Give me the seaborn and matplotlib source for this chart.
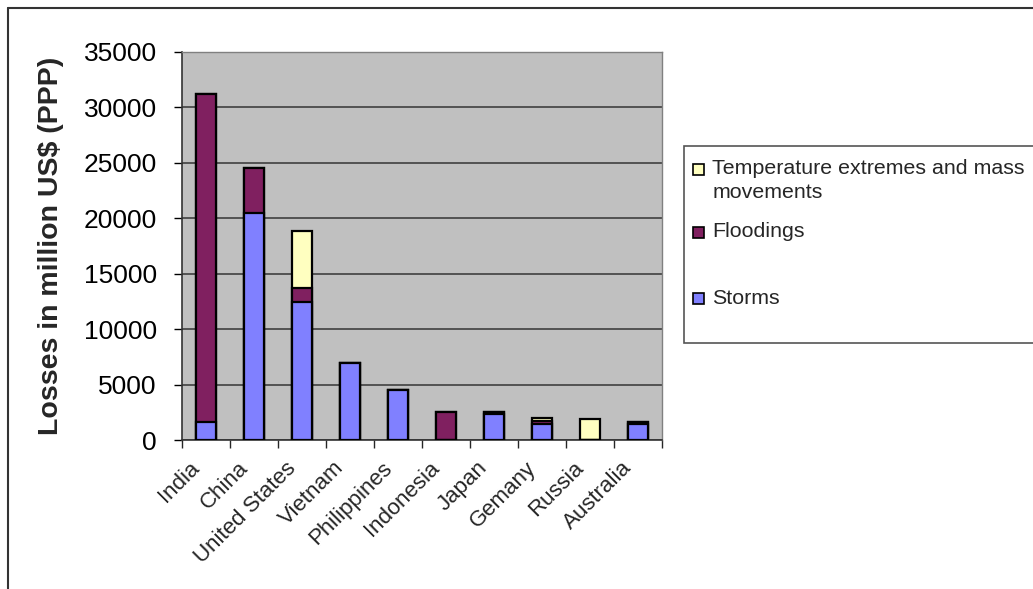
import matplotlib
matplotlib.use("Agg")
import matplotlib.pyplot as plt
import matplotlib.transforms as mtrans
import seaborn as sns
import pandas as pd
import numpy as np
from matplotlib.patches import Rectangle
from matplotlib.lines import Line2D

# losses per country, million US$ (PPP)
countries = ["India", "China", "United States", "Vietnam", "Philippines",
             "Indonesia", "Japan", "Gemany", "Russia", "Australia"]
storms = [1600, 20500, 12400, 6900, 4500, 0, 2300, 1450, 0, 1450]
floodings = [29600, 4000, 1300, 0, 0, 2500, 250, 250, 0, 200]
temp_mass = [0, 0, 5100, 0, 0, 0, 0, 300, 1850, 0]

legend_labels = ["Temperature extremes and mass", "movements", "Floodings", "Storms"]

c_storm = "#8080FF"
c_flood = "#802060"
c_temp = "#FFFFC0"

df = pd.DataFrame({"country": countries, "storms": storms,
                   "floodings": floodings, "temp": temp_mass})
df["lvl1"] = df["storms"]
df["lvl2"] = df["storms"] + df["floodings"]
df["lvl3"] = df["lvl2"] + df["temp"]

sns.set_style("white")
plt.rcParams["font.family"] = ["Liberation Sans", "DejaVu Sans"]

W, H = 1033, 589
fig = plt.figure(figsize=(W / 100, H / 100), dpi=100)

def fx(px):
    return px / W

def fy(py):
    return 1 - py / H

ax = fig.add_axes([fx(181.7), fy(440), fx(661.7) - fx(181.7), fy(51.7) - fy(440)])
ax.set_facecolor("#C0C0C0")

# stacked bars: draw the totals first, then the lower parts on top
for col, colr in [("lvl3", c_temp), ("lvl2", c_flood), ("lvl1", c_storm)]:
    sns.barplot(data=df, x="country", y=col, color=colr, saturation=1,
                edgecolor="black", linewidth=1.6, width=0.42, ax=ax, zorder=3)

ax.set_ylim(0, 35000)
ax.set_yticks(np.arange(0, 35001, 5000))
ax.set_xlim(-0.5, 9.5)
ax.yaxis.grid(True, color="#4a4a4a", lw=1.3, zorder=0)
ax.set_axisbelow(True)

for s in ["left", "bottom"]:
    ax.spines[s].set_color("#333333")
    ax.spines[s].set_linewidth(1.2)
for s in ["top", "right"]:
    ax.spines[s].set_color("#808080")
    ax.spines[s].set_linewidth(1.0)

ax.tick_params(axis="y", direction="out", length=6, width=1, labelsize=19,
               pad=12, left=True, colors="black")
ax.set_xticks(np.arange(-0.5, 10, 1), minor=True)
ax.tick_params(axis="x", which="minor", direction="out", length=6, width=1, bottom=True)
ax.tick_params(axis="x", which="major", length=0, labelsize=16, pad=10)
shift = mtrans.ScaledTranslation(-9 / 100, -11 / 100, fig.dpi_scale_trans)
for lab in ax.get_xticklabels():
    lab.set_rotation(45)
    lab.set_ha("right")
    lab.set_va("center")
    lab.set_rotation_mode("anchor")
    lab.set_transform(lab.get_transform() + shift)

ax.set_xlabel("")
ax.set_ylabel("Losses in million US$ (PPP)", fontsize=20.5, fontweight="bold")
ax.yaxis.set_label_coords((64 - 181.7) / 480, 0.5)

# outer chart frame
fig.add_artist(Line2D([fx(7.5), fx(7.5)], [0, fy(8)], transform=fig.transFigure,
                      color="#333333", lw=1.5))
fig.add_artist(Line2D([fx(7.5), 1], [fy(8), fy(8)], transform=fig.transFigure,
                      color="#333333", lw=1.5))

# legend box
fig.add_artist(Rectangle((fx(684), fy(343)), fx(1040) - fx(684), fy(145.7) - fy(343),
                         transform=fig.transFigure, fc="white", ec="#555555", lw=1.2))
entries = [(169, legend_labels[0], c_temp), (193, legend_labels[1], None),
           (232, legend_labels[2], c_flood), (298, legend_labels[3], c_storm)]
for yc, txt, colr in entries:
    if colr is not None:
        fig.add_artist(Rectangle((fx(693), fy(yc + 5.5)), fx(11), 11 / H,
                                 transform=fig.transFigure, fc=colr, ec="black", lw=1.2))
    fig.text(fx(712.5), fy(yc), txt, fontsize=15.4, va="center", ha="left")

fig.savefig("out.png", dpi=100)
